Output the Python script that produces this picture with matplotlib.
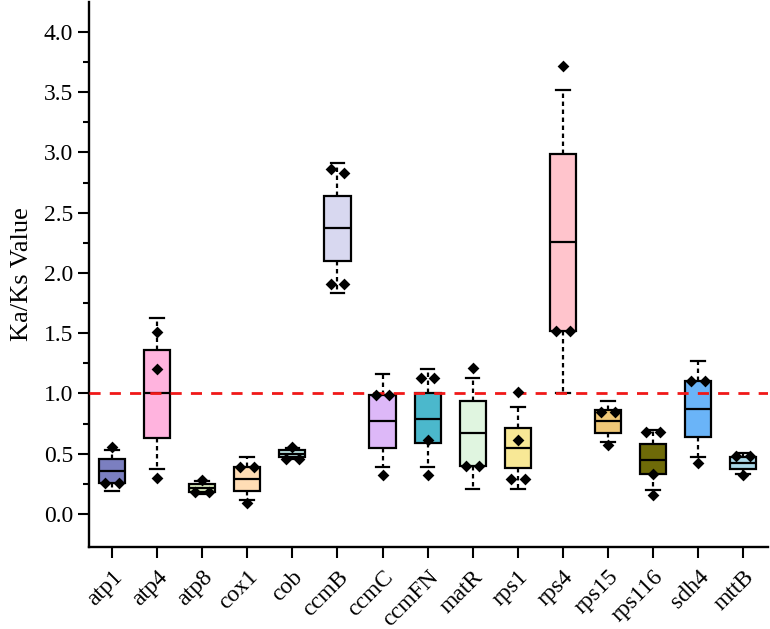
import numpy as np
import matplotlib
matplotlib.use('Agg')
import matplotlib.pyplot as plt
from matplotlib.ticker import FixedLocator

plt.rcParams['font.family'] = ['Liberation Serif', 'DejaVu Serif']

genes = ['atp1', 'atp4', 'atp8', 'cox1', 'cob', 'ccmB', 'ccmC', 'ccmFN',
         'matR', 'rps1', 'rps4', 'rps15', 'rps116', 'sdh4', 'mttB']
q1 = [0.26, 0.63, 0.18, 0.19, 0.47, 2.10, 0.55, 0.59, 0.40, 0.38, 1.52, 0.67, 0.33, 0.64, 0.37]
med = [0.36, 1.00, 0.215, 0.29, 0.50, 2.37, 0.77, 0.79, 0.67, 0.55, 2.26, 0.77, 0.45, 0.87, 0.42]
q3 = [0.46, 1.36, 0.245, 0.39, 0.53, 2.64, 0.99, 1.00, 0.94, 0.71, 2.99, 0.86, 0.58, 1.10, 0.47]
whislo = [0.19, 0.37, 0.17, 0.12, 0.46, 1.83, 0.39, 0.39, 0.21, 0.21, 1.00, 0.60, 0.20, 0.47, 0.33]
whishi = [0.53, 1.63, 0.27, 0.47, 0.55, 2.91, 1.16, 1.20, 1.13, 0.89, 3.52, 0.94, 0.70, 1.27, 0.51]
points = [
    [0.56, 0.26, 0.26],
    [1.51, 1.20, 0.30],
    [0.28, 0.18, 0.18],
    [0.39, 0.39, 0.09],
    [0.56, 0.46, 0.46],
    [2.86, 2.83, 1.91, 1.91],
    [0.99, 0.99, 0.32],
    [1.13, 1.13, 0.61, 0.32],
    [1.21, 0.40, 0.40],
    [1.01, 0.61, 0.29, 0.29],
    [3.72, 1.52, 1.52],
    [0.85, 0.85, 0.57],
    [0.68, 0.68, 0.33, 0.16],
    [1.10, 1.10, 0.42],
    [0.48, 0.48, 0.32],
]
colors = ['#7B7FC0', '#FFB3DE', '#DDEFC0', '#FFDDB5', '#BCE6E4', '#D8D8F0',
          '#DDB8F8', '#4BB8CC', '#E0F5E0', '#F8E896', '#FFC4CC', '#F0C878',
          '#6E6A08', '#6AB4F8', '#AAD8E8']

fig = plt.figure(figsize=(7.7, 6.29), dpi=100)
ax = fig.add_axes([89 / 770, 1 - 547 / 629, 679 / 770, 545 / 629])

pos = np.arange(1, len(genes) + 1)
stats = []
for i, g in enumerate(genes):
    stats.append({'label': g, 'q1': q1[i], 'med': med[i], 'q3': q3[i],
                  'whislo': whislo[i], 'whishi': whishi[i], 'fliers': []})

bp = ax.bxp(stats, positions=pos, widths=0.58, capwidths=0.3, patch_artist=True,
            showfliers=False,
            boxprops=dict(linewidth=1.6, edgecolor='black'),
            medianprops=dict(color='black', linewidth=1.6),
            whiskerprops=dict(color='black', linewidth=1.6, linestyle=(0, (2, 1.6))),
            capprops=dict(color='black', linewidth=1.6))
for patch, c in zip(bp['boxes'], colors):
    patch.set_facecolor(c)

# diamonds: points that nearly overlap are spread sideways
for i, vals in enumerate(points):
    vals = sorted(vals)
    groups = [[vals[0]]]
    for v in vals[1:]:
        if v - groups[-1][-1] < 0.06:
            groups[-1].append(v)
        else:
            groups.append([v])
    for grp in groups:
        n = len(grp)
        offs = np.linspace(-0.15, 0.15, n) if n > 1 else np.array([0.0])
        ax.scatter(pos[i] + offs, grp[::-1], marker='D', s=36, color='black',
                   zorder=5, linewidths=0)

ax.axhline(1.0, color='#F01818', linewidth=2, linestyle=(0, (4, 3.3)), zorder=4)

ax.set_xlim(0.49, 15.55)
ax.set_ylim(-0.274, 4.249)
ax.set_yticks(np.arange(0, 4.01, 0.5))
ax.set_yticklabels([f'{v:.1f}' for v in np.arange(0, 4.01, 0.5)], fontsize=17)
ax.yaxis.set_minor_locator(FixedLocator(np.arange(0.25, 4.3, 0.5)))
ax.set_xticks(pos)
ax.set_xticklabels(genes, fontsize=17, rotation=45, ha='right', rotation_mode='anchor')
ax.set_ylabel('Ka/Ks Value', fontsize=19, labelpad=8)

for s in ['top', 'right']:
    ax.spines[s].set_visible(False)
for s in ['left', 'bottom']:
    ax.spines[s].set_linewidth(1.7)
ax.tick_params(axis='both', which='major', length=8, width=1.5, direction='out')
ax.tick_params(axis='y', which='minor', length=4.5, width=1.5, direction='out')
ax.tick_params(axis='x', pad=6)

fig.savefig('out.png', dpi=100)
